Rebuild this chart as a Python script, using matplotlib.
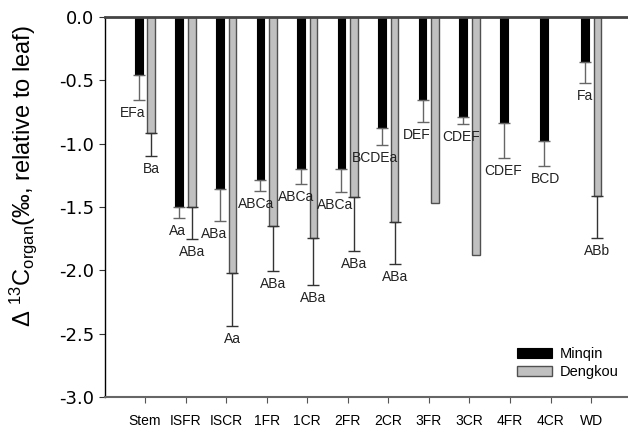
import numpy as np
import matplotlib
matplotlib.use("Agg")
import matplotlib.pyplot as plt

# Data
organs = ["Stem", "ISFR", "ISCR", "1FR", "1CR", "2FR", "2CR", "3FR", "3CR", "4FR", "4CR", "WD"]

minqin_mean = [-0.458, -1.497, -1.358, -1.287, -1.200, -1.200, -0.879, -0.655, -0.787, -0.839, -0.979, -0.353]
minqin_se = [0.197, 0.092, 0.252, 0.084, 0.120, 0.184, 0.129, 0.174, 0.055, 0.276, 0.195, 0.168]
minqin_letters = ["EFa", "Aa", "ABa", "ABCa", "ABCa", "ABCa", "BCDEa", "DEF", "CDEF", "CDEF", "BCD", "Fa"]

dengkou_mean = [-0.918, -1.502, -2.018, -1.647, -1.742, -1.418, -1.618, -1.465, -1.878, np.nan, np.nan, -1.413]
dengkou_se = [0.179, 0.250, 0.418, 0.355, 0.373, 0.429, 0.331, np.nan, np.nan, np.nan, np.nan, 0.329]
dengkou_letters = ["Ba", "ABa", "Aa", "ABa", "ABa", "ABa", "ABa", "", "", "", "", "ABb"]

# small horizontal nudges (pixels) for the Minqin letters
mq_dx = [-6, -2, -6, -4, -5, -6, -7, -6, -2, -1, 1, 0]

plt.rcParams["font.family"] = ["Liberation Sans", "DejaVu Sans"]
plt.rcParams["mathtext.fontset"] = "custom"
plt.rcParams["mathtext.rm"] = "Liberation Sans"
plt.rcParams["mathtext.it"] = "Liberation Sans:italic"
plt.rcParams["axes.unicode_minus"] = False

fig = plt.figure(figsize=(6.28, 4.28), dpi=100)
ax = fig.add_axes([105 / 628, 31 / 428, 523 / 628, 380 / 428])

x = np.arange(len(organs))
w = 0.19
off = 0.155
mq = np.array(minqin_mean)
dk = np.array(dengkou_mean)
mq_se = np.array(minqin_se)
dk_se = np.array(dengkou_se)

ax.bar(x - off, mq, w, color="black", edgecolor="black", linewidth=0.8, label="Minqin", zorder=2)
ok = ~np.isnan(dk)
ax.bar(x[ok] + off, dk[ok], w, color="#c0c0c0", edgecolor="#505050", linewidth=1.0, label="Dengkou", zorder=2)

ax.errorbar(x - off, mq, yerr=[mq_se, np.zeros_like(mq_se)], fmt="none",
            ecolor="#666666", elinewidth=1.0, capsize=4.3, capthick=1.0, zorder=3)
ok_e = ~np.isnan(dk_se)
ax.errorbar(x[ok_e] + off, dk[ok_e], yerr=[dk_se[ok_e], np.zeros(ok_e.sum())], fmt="none",
            ecolor="#333333", elinewidth=1.0, capsize=4.3, capthick=1.0, zorder=3)

for i in range(len(organs)):
    ax.annotate(minqin_letters[i], (x[i] - off, mq[i] - mq_se[i]), xytext=(mq_dx[i], -13),
                textcoords="offset pixels", ha="center", va="center", fontsize=10, color="#222222")
    if dengkou_letters[i]:
        ax.annotate(dengkou_letters[i], (x[i] + off, dk[i] - dk_se[i]), xytext=(0, -13),
                    textcoords="offset pixels", ha="center", va="center", fontsize=10, color="#222222")

ax.set_ylim(-3.0, 0.0)
ax.set_xlim(-0.986, 11.91)
ax.set_yticks(np.arange(-3.0, 0.01, 0.5))
ax.set_yticklabels([f"{v:.1f}" for v in np.arange(-3.0, 0.01, 0.5)], fontfamily="DejaVu Sans", fontsize=13)
ax.set_xticks(x)
ax.set_xticklabels(organs, fontsize=10)
ax.tick_params(axis="x", direction="out", length=4, pad=8, color="#555555")
ax.tick_params(axis="y", direction="out", length=4, pad=4, color="#333333")

ax.spines["right"].set_visible(False)
ax.spines["top"].set_color("#444444")
ax.spines["top"].set_linewidth(2)
ax.spines["left"].set_color("black")
ax.spines["left"].set_linewidth(1)
ax.spines["bottom"].set_color("#666666")
ax.spines["bottom"].set_linewidth(1.5)

fig.text(23 / 628, 1 - 176 / 428, r"$\Delta$ $^{13}$C$_{\rm organ}$(‰, relative to leaf)",
         rotation=90, ha="center", va="center", fontsize=17)

ax.legend(loc="center left", bbox_to_anchor=(517 / 628, 1 - 363 / 428), bbox_transform=fig.transFigure,
          frameon=False, fontsize=10.5, handlelength=2.4, handleheight=0.7, labelspacing=0.25,
          handletextpad=0.5, borderpad=0, borderaxespad=0)

fig.savefig("out.png", dpi=100)
